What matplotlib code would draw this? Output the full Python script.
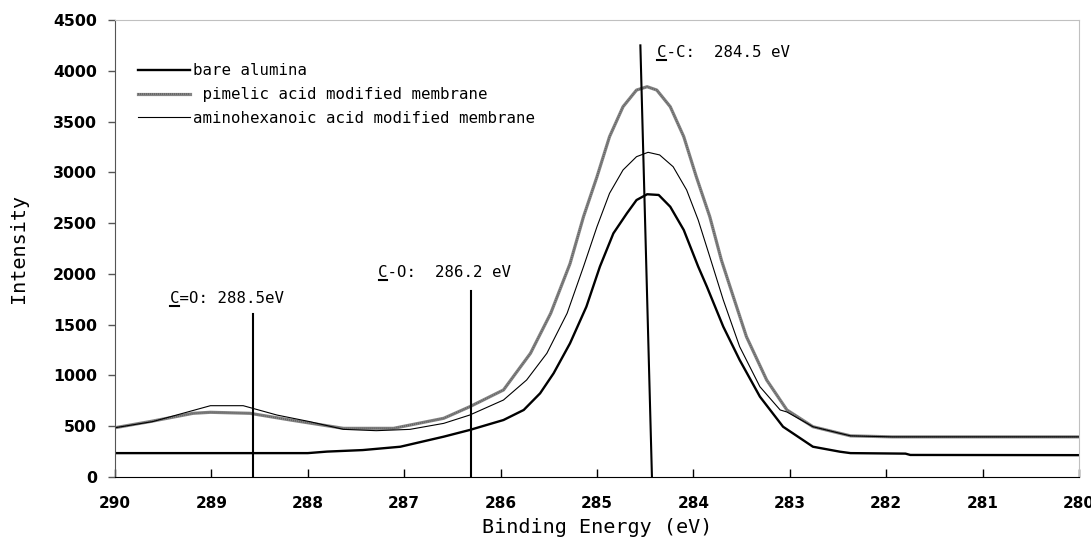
import numpy as np
import matplotlib
matplotlib.use("Agg")
import matplotlib.pyplot as plt
from matplotlib.lines import Line2D
from matplotlib.transforms import IdentityTransform

# binding energy (eV) / intensity
bare_ev = [290.0, 289.0, 288.0, 287.8, 287.43, 287.04, 286.59, 286.32, 285.97,
           285.76, 285.59, 285.45, 285.28, 285.11, 284.97, 284.83, 284.69,
           284.59, 284.48, 284.36, 284.24, 284.1, 283.95, 283.86, 283.69,
           283.52, 283.31, 283.07, 282.76, 282.48, 282.37, 281.8, 281.75, 280.0]
bare_int = [235, 235, 235, 250, 265, 298, 397, 463, 561,
            660, 824, 1021, 1316, 1677, 2071, 2399, 2596,
            2727, 2784, 2777, 2661, 2432, 2071, 1874, 1480,
            1152, 791, 495, 298, 249, 235, 230, 217, 215]

pim_ev = [290.0, 289.64, 289.19, 289.01, 288.6, 288.18, 287.63, 287.11, 286.59,
          286.32, 285.97, 285.69, 285.48, 285.28, 285.14, 285.0, 284.87,
          284.73, 284.59, 284.48, 284.38, 284.24, 284.1, 283.97, 283.83,
          283.71, 283.62, 283.45, 283.24, 283.03, 282.76, 282.48, 282.37,
          281.94, 280.0]
pim_int = [485, 545, 627, 637, 627, 561, 479, 479, 578,
           692, 857, 1218, 1612, 2100, 2563, 2957, 3351,
           3646, 3810, 3843, 3810, 3646, 3351, 2957, 2563,
           2137, 1874, 1382, 955, 660, 495, 430, 405,
           395, 395]

amino_ev = [290.0, 289.61, 289.01, 288.67, 288.32, 287.98, 287.63, 287.29, 286.94,
            286.59, 286.32, 285.97, 285.73, 285.52, 285.31, 285.14, 285.0,
            284.87, 284.73, 284.59, 284.47, 284.35, 284.21, 284.07, 283.95,
            283.83, 283.69, 283.52, 283.31, 283.1, 283.03, 282.76, 282.48,
            282.37, 281.94, 280.0]
amino_int = [485, 545, 702, 702, 610, 545, 469, 456, 469,
             528, 610, 758, 955, 1218, 1612, 2071, 2465,
             2793, 3023, 3154, 3197, 3171, 3055, 2826, 2530,
             2169, 1743, 1283, 889, 660, 640, 495, 430,
             405, 395, 395]

# peak markers
marker_labels = ["C=O: 288.5eV", "C-O:  286.2 eV", "C-C:  284.5 eV"]
marker_base = [288.57, 286.31, 284.43]
marker_top_x = [288.57, 286.31, 284.55]
marker_top_y = [1600, 1830, 4250]
label_x = [289.43, 287.27, 284.38]
label_y = [1710, 1965, 4140]

mono = "DejaVu Sans Mono"

fig = plt.figure(figsize=(10.91, 5.46), dpi=100)
ax = fig.add_axes([0.1054, 0.1264, 0.8836, 0.837])

l1, = ax.plot(bare_ev, bare_int, color="black", lw=1.7)
l2a, = ax.plot(pim_ev, pim_int, color="#858585", lw=2.3)
l2b, = ax.plot(pim_ev, pim_int, color="#5e5e5e", lw=1.2, ls=(0, (0.5, 0.7)))
l3, = ax.plot(amino_ev, amino_int, color="black", lw=0.8)

for xb, xt, yt in zip(marker_base, marker_top_x, marker_top_y):
    ax.plot([xb, xt], [0, yt], color="black", lw=1.5)

labels = []
for txt, tx, ty in zip(marker_labels, label_x, label_y):
    labels.append(ax.text(tx, ty, txt, fontsize=11.3, family=mono,
                          va="baseline", ha="left"))

ax.set_xlim(290, 280)
ax.set_ylim(0, 4500)
ax.set_xticks(np.arange(290, 279, -1))
ax.set_yticks(np.arange(0, 4501, 500))

ax.tick_params(axis="x", direction="in", length=6, width=1, pad=14,
               labelsize=11, colors="black")
ax.tick_params(axis="y", direction="out", length=5, width=1, pad=8,
               labelsize=11.3, color="#555555")
for lab in ax.get_xticklabels() + ax.get_yticklabels():
    lab.set_fontweight("bold")

ax.spines["left"].set_color("#555555")
ax.spines["bottom"].set_color("black")
ax.spines["top"].set_color("#c0c0c0")
ax.spines["right"].set_color("#c0c0c0")

ax.set_xlabel("Binding Energy (eV)", family=mono, fontsize=14.5, labelpad=5)
ax.set_ylabel("Intensity", family=mono, fontsize=14.5, labelpad=18)

ax.legend(handles=[l1, (l2a, l2b), l3],
          labels=["bare alumina", " pimelic acid modified membrane",
                  "aminohexanoic acid modified membrane"],
          loc="upper left", bbox_to_anchor=(0.024, 0.905),
          frameon=False, prop={"family": mono, "size": 11.3},
          handlelength=3.3, handletextpad=0.2, borderpad=0, borderaxespad=0,
          labelspacing=0.55)

# underline the leading "C" of each peak label (monospace: one char = width / len)
fig.canvas.draw()
renderer = fig.canvas.get_renderer()
for t in labels:
    bb = t.get_window_extent(renderer)
    cw = bb.width / len(t.get_text())
    base_y = ax.transData.transform(t.get_position())[1]
    fig.add_artist(Line2D([bb.x0 + 0.5, bb.x0 + cw - 0.5], [base_y - 3, base_y - 3],
                          transform=IdentityTransform(), color="black", lw=1.5))

fig.savefig("out.png", dpi=100)
